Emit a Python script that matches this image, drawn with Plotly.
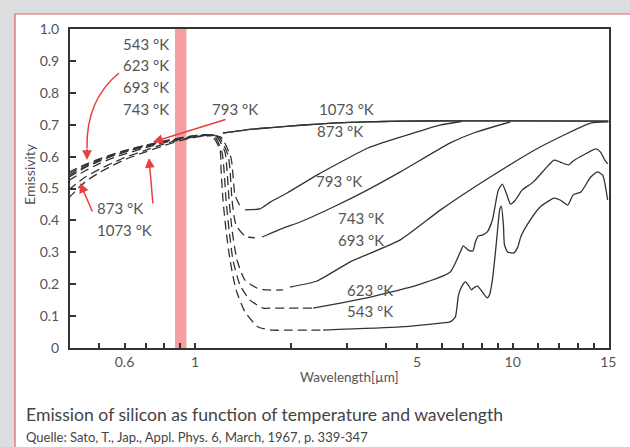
import plotly.graph_objects as go

# ---------------- data ----------------
SW_WL = [0.40, 0.45, 0.50, 0.55, 0.60, 0.70, 0.80, 0.90, 1.00, 1.08]

# 543 K
WL_543_DASH = SW_WL + [1.14, 1.199, 1.208, 1.225, 1.252, 1.289, 1.347, 1.438, 1.58, 1.75, 1.92, 2.31, 2.53]
EM_543_DASH = [0.535, 0.565, 0.586, 0.602, 0.614, 0.632, 0.646, 0.657, 0.664, 0.668,
               0.661, 0.621, 0.558, 0.464, 0.370, 0.276, 0.182, 0.113, 0.066, 0.056, 0.056, 0.056, 0.056]
WL_543 = [2.53, 4.43, 5.93, 6.36, 6.6, 6.75, 6.95, 7.1, 7.25, 7.42, 7.53, 7.75, 8.02, 8.32, 8.45, 8.63,
          8.82, 8.96, 9.1, 9.21, 9.35, 9.42, 9.64, 10.08, 10.38, 10.6, 11.2, 12.2, 13.5, 14.1, 14.9,
          15.5, 16.4, 17.6, 18.5, 19.2, 19.5, 19.9]
EM_543 = [0.056, 0.066, 0.078, 0.082, 0.097, 0.166, 0.197, 0.207, 0.197, 0.182, 0.188, 0.194, 0.176,
          0.157, 0.166, 0.213, 0.298, 0.370, 0.433, 0.445, 0.386, 0.323, 0.301, 0.298, 0.317, 0.348,
          0.392, 0.442, 0.470, 0.464, 0.448, 0.480, 0.489, 0.536, 0.552, 0.542, 0.517, 0.464]

# 623 K
WL_623_DASH = SW_WL + [1.156, 1.216, 1.234, 1.252, 1.28, 1.317, 1.386, 1.491, 1.638, 1.749, 1.921, 2.143, 2.354]
EM_623_DASH = [0.545, 0.572, 0.591, 0.606, 0.618, 0.635, 0.648, 0.658, 0.665, 0.668,
               0.661, 0.614, 0.558, 0.464, 0.370, 0.276, 0.197, 0.150, 0.125, 0.125, 0.125, 0.125, 0.125]
WL_623 = [2.354, 3.48, 5.01, 6.36, 6.84, 6.99, 7.25, 7.49, 7.63, 7.79, 8.02, 8.32, 8.63, 9.01, 9.28,
          9.64, 9.84, 10.2, 10.7, 11.6, 13.5, 14.1, 15.0, 15.5, 16.7, 18.3, 18.9, 19.5, 19.9]
EM_623 = [0.125, 0.157, 0.197, 0.238, 0.301, 0.320, 0.307, 0.304, 0.332, 0.351, 0.354, 0.364, 0.401,
          0.495, 0.514, 0.473, 0.451, 0.464, 0.495, 0.520, 0.589, 0.583, 0.574, 0.586, 0.605, 0.624,
          0.614, 0.589, 0.577]

# 693 K
WL_693_DASH = SW_WL + [1.173, 1.243, 1.261, 1.28, 1.308, 1.356, 1.437, 1.567, 1.686, 1.893]
EM_693_DASH = [0.55, 0.575, 0.593, 0.607, 0.619, 0.636, 0.649, 0.659, 0.666, 0.669,
               0.661, 0.614, 0.558, 0.464, 0.370, 0.276, 0.213, 0.188, 0.182, 0.182]
WL_693 = [1.993, 2.42, 3.08, 4.43, 5.93, 8.5, 12.2, 17.6, 20.0]
EM_693 = [0.191, 0.210, 0.270, 0.339, 0.433, 0.536, 0.630, 0.705, 0.709]

# 743 K
WL_743_DASH = SW_WL + [1.19, 1.27, 1.289, 1.308, 1.346, 1.437, 1.545]
EM_743_DASH = [0.54, 0.568, 0.588, 0.603, 0.615, 0.633, 0.647, 0.657, 0.664, 0.668,
               0.661, 0.605, 0.558, 0.464, 0.386, 0.351, 0.345]
WL_743 = [1.626, 1.895, 2.143, 2.725, 3.484, 4.43, 6.36, 7.53, 9.84]
EM_743 = [0.348, 0.376, 0.395, 0.442, 0.495, 0.552, 0.643, 0.674, 0.709]

# 793 K
WL_793_DASH = SW_WL + [1.207, 1.298, 1.317, 1.336, 1.386]
EM_793_DASH = [0.525, 0.555, 0.578, 0.595, 0.608, 0.628, 0.644, 0.655, 0.663, 0.667,
               0.661, 0.596, 0.542, 0.480, 0.445]
WL_793 = [1.437, 1.6, 1.73, 1.95, 2.42, 2.88, 3.5, 4.43, 5.9, 6.9]
EM_793 = [0.433, 0.436, 0.458, 0.486, 0.542, 0.583, 0.627, 0.661, 0.699, 0.710]

# 873 K
WL_873_DASH = SW_WL + [1.15]
EM_873_DASH = [0.495, 0.535, 0.56, 0.58, 0.597, 0.62, 0.64, 0.653, 0.662, 0.667, 0.668]
WL_873 = [1.225, 1.45, 1.7, 2.2, 2.7, 3.5, 4.4, 6.4, 10.0, 20.0]
EM_873 = [0.674, 0.684, 0.690, 0.699, 0.705, 0.709, 0.711, 0.712, 0.712, 0.711]

# 1073 K
WL_1073_DASH = SW_WL + [1.15]
EM_1073_DASH = [0.47, 0.52, 0.55, 0.572, 0.59, 0.615, 0.635, 0.65, 0.66, 0.665, 0.667]
WL_1073 = [1.225, 1.45, 1.7, 2.2, 2.7, 3.5, 4.4, 6.4, 10.0, 20.0]
EM_1073 = [0.674, 0.684, 0.690, 0.699, 0.705, 0.709, 0.711, 0.712, 0.712, 0.711]

BAND = [0.865, 0.94]

X_TICK_VALS = [0.5, 0.6, 0.7, 0.8, 0.9, 1, 2, 3, 4, 5, 6, 7, 8, 9, 10, 12, 14, 16, 18, 20]
X_TICK_TEXT = ["", "0.6", "", "", "", "1", "", "", "", "5", "", "", "", "", "10", "", "", "", "", "15"]
Y_TICK_VALS = [0, 0.1, 0.2, 0.3, 0.4, 0.5, 0.6, 0.7, 0.8, 0.9, 1.0]
Y_TICK_TEXT = ["0", "0.1", "0.2", "0.3", "0.4", "0.5", "0.6", "0.7", "0.8", "0.9", "1.0"]

SERIES = [
    (WL_543_DASH, EM_543_DASH, WL_543, EM_543),
    (WL_623_DASH, EM_623_DASH, WL_623, EM_623),
    (WL_693_DASH, EM_693_DASH, WL_693, EM_693),
    (WL_743_DASH, EM_743_DASH, WL_743, EM_743),
    (WL_793_DASH, EM_793_DASH, WL_793, EM_793),
    (WL_873_DASH, EM_873_DASH, WL_873, EM_873),
    (WL_1073_DASH, EM_1073_DASH, WL_1073, EM_1073),
]

# ---------------- layout geometry ----------------
W, H = 630, 447
L, R, T, B = 70, 609, 29, 348
FONT = "Lato, 'Open Sans', sans-serif"
LINE = "#333333"
TXT = "#555555"
RED = "#e8403f"


def px(x, y):
    return (x - L) / (R - L), (B - y) / (B - T)


fig = go.Figure()

# highlighted band
fig.add_trace(go.Scatter(x=[BAND[0], BAND[1], BAND[1], BAND[0]], y=[0, 0, 1, 1],
                         fill="toself", fillcolor="#f4a0a0", mode="none",
                         hoverinfo="skip", showlegend=False))

for wd, ed, ws, es in SERIES:
    fig.add_trace(go.Scatter(x=wd, y=ed, mode="lines",
                             line=dict(color=LINE, width=1.3, dash="9px,5px", shape="spline", smoothing=0.6),
                             showlegend=False))
    fig.add_trace(go.Scatter(x=ws, y=es, mode="lines",
                             line=dict(color=LINE, width=1.3, shape="spline", smoothing=0.5),
                             showlegend=False))

fig.update_layout(
    width=W, height=H,
    margin=dict(l=L, r=W - R, t=T, b=H - B),
    paper_bgcolor="#dcdddf",
    plot_bgcolor="rgba(0,0,0,0)",
    showlegend=False,
    font=dict(family=FONT, color=TXT, size=14),
)
fig.update_xaxes(type="log", range=[(L - 195) / 317.7, (R - 195) / 317.7],
                 tickvals=X_TICK_VALS, ticktext=X_TICK_TEXT,
                 ticks="inside", ticklen=5, tickwidth=1.5, tickcolor=LINE,
                 showline=True, linecolor=LINE, linewidth=2, mirror=True,
                 showgrid=False, zeroline=False, tickfont=dict(size=14, color=TXT, family=FONT))
fig.update_yaxes(range=[0, 1], tickvals=Y_TICK_VALS, ticktext=Y_TICK_TEXT,
                 ticks="inside", ticklen=6, tickwidth=1.5, tickcolor=LINE,
                 showline=True, linecolor=LINE, linewidth=2, mirror=True,
                 showgrid=False, zeroline=False, tickfont=dict(size=14, color=TXT, family=FONT),
                 ticklabelstandoff=6)

# white panel with red border
x0, y1 = px(15, 14)
x1, y0 = px(650, 470)
fig.add_shape(type="rect", xref="paper", yref="paper", x0=x0, x1=x1, y0=y0, y1=y1,
              fillcolor="white", line=dict(color="#e06060", width=1.2), layer="below")

annots = []


def label(text, x, y, anchor="left", size=15, color=TXT):
    xp, yp = px(x, y)
    annots.append(dict(text=text, x=xp, y=yp, xref="paper", yref="paper", xanchor=anchor,
                       yanchor="middle", showarrow=False, font=dict(size=size, color=color, family=FONT)))


for t, yy in [("543 °K", 44), ("623 °K", 65), ("693 °K", 87), ("743 °K", 109)]:
    label(t, 171, yy, anchor="right")
label("793 °K", 210, 109)
label("873 °K", 95, 208)
label("1073 °K", 95, 230)
label("1073 °K", 317, 109)
label("873 °K", 315, 131)
label("793 °K", 314, 181)
label("743 °K", 336, 218)
label("693 °K", 336, 240)
label("623 °K", 345, 290)
label("543 °K", 345, 311)

# axis titles
xp, yp = px(349, 377)
annots.append(dict(text="Wavelength[µm]", x=xp, y=yp, xref="paper", yref="paper", showarrow=False,
                   xanchor="center", yanchor="middle", font=dict(size=13.5, color=TXT, family=FONT)))
xp, yp = px(29, 174)
annots.append(dict(text="Emissivity", x=xp, y=yp, xref="paper", yref="paper", showarrow=False,
                   textangle=-90, xanchor="center", yanchor="middle",
                   font=dict(size=14, color=TXT, family=FONT)))

# caption
xp, yp = px(24, 414)
annots.append(dict(text="Emission of silicon as function of temperature and wavelength", x=xp, y=yp,
                   xref="paper", yref="paper", showarrow=False, xanchor="left", yanchor="middle",
                   font=dict(size=17.6, color="#444444", family=FONT)))
xp, yp = px(24, 437)
annots.append(dict(text="Quelle: Sato, T., Jap., Appl. Phys. 6, March, 1967, p. 339-347", x=xp, y=yp,
                   xref="paper", yref="paper", showarrow=False, xanchor="left", yanchor="middle",
                   font=dict(size=13, color="#444444", family=FONT)))


def arrow(hx, hy, tx, ty):
    xp, yp = px(hx, hy)
    annots.append(dict(text="", x=xp, y=yp, xref="paper", yref="paper", showarrow=True,
                       ax=tx - hx, ay=ty - hy, arrowhead=2, arrowsize=1.3, arrowwidth=1.5,
                       arrowcolor=RED))


arrow(80, 183, 93, 213)
arrow(149, 158, 153, 205)
arrow(153, 142, 227, 119)
arrow(87, 160, 87, 147)

# curved arrow body
a = px(119, 73)
c = px(86, 100)
e = px(87, 148)
fig.add_shape(type="path", xref="paper", yref="paper",
              path=f"M {a[0]},{a[1]} Q {c[0]},{c[1]} {e[0]},{e[1]}",
              line=dict(color=RED, width=1.5), layer="above")

fig.update_layout(annotations=annots)
fig.write_html("out.html", config={"displayModeBar": False},
               post_script="document.body.style.margin='0';document.body.style.padding='0';")
